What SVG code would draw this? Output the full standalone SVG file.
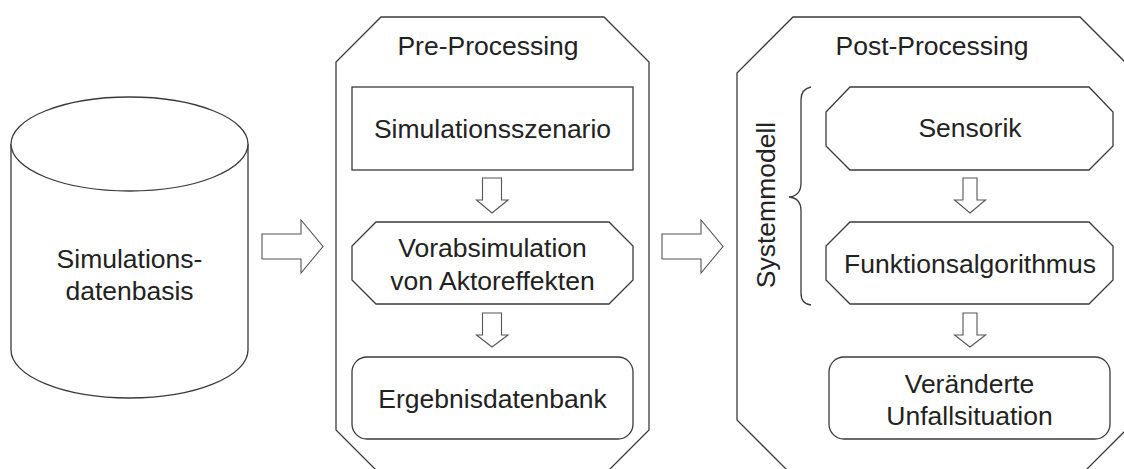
<svg xmlns="http://www.w3.org/2000/svg" width="1124" height="469" viewBox="0 0 1124 469">
<style>
.s{fill:#fff;stroke:#3a3a3a;stroke-width:1.3;stroke-linejoin:miter}
.b{fill:none;stroke:#3a3a3a;stroke-width:1.3}
.a{fill:#fff;stroke:#555;stroke-width:1.1}
text{font-family:"Liberation Sans",Arial,sans-serif;font-size:26.5px;fill:#222;text-anchor:middle}
</style>
<rect width="1124" height="469" fill="#fff"/>
<g id="db">
<path class="s" d="M11,144 V350 A118.5,48 0 0 0 248,350 V144"/>
<ellipse class="s" cx="129.5" cy="144" rx="118.5" ry="47"/>
<text x="129.5" y="268">Simulations-</text>
<text x="129.5" y="300">datenbasis</text>
</g>
<g id="pre">
<path class="s" d="M381,17 H604 L649,62 V430 L604,475 H381 L336,430 V62 Z"/>
<text x="488" y="55">Pre-Processing</text>
</g>
<g id="szenario">
<rect class="s" x="352" y="87" width="281" height="83"/>
<text x="492.5" y="138">Simulationsszenario</text>
</g>
<g id="vorab">
<path class="s" d="M376,222 H609 L633,246 V280 L609,304 H376 L352,280 V246 Z"/>
<text x="492.5" y="257">Vorabsimulation</text>
<text x="492.5" y="290">von Aktoreffekten</text>
</g>
<g id="ergebnis">
<rect class="s" x="352" y="357" width="281" height="82" rx="15"/>
<text x="492.5" y="408">Ergebnisdatenbank</text>
</g>
<g id="post">
<path class="s" d="M793,17 H1080 L1136,73 V420 L1080,476 H793 L737,420 V73 Z"/>
<text x="932" y="55">Post-Processing</text>
</g>
<g id="systemmodell">
<path class="b" d="M811,87 Q801,89 801,100 V183 Q801,196 789,197 Q801,198 801,211 V293 Q801,304 811,305"/>
<text transform="translate(775,205) rotate(-90)">Systemmodell</text>
</g>
<g id="sensorik">
<path class="s" d="M850,87 H1089 L1113,112 V146 L1089,170 H850 L826,146 V112 Z"/>
<text x="970" y="137">Sensorik</text>
</g>
<g id="funktion">
<path class="s" d="M850,222 H1089 L1113,246 V280 L1089,304 H850 L826,280 V246 Z"/>
<text x="970" y="273">Funktionsalgorithmus</text>
</g>
<g id="unfall">
<rect class="s" x="829" y="357" width="281" height="82" rx="15"/>
<text x="969.5" y="393">Veränderte</text>
<text x="969.5" y="425">Unfallsituation</text>
</g>
<g id="connectors">
<path class="a" d="M262,234 H301 V220 L323,246.5 L301,273 V259 H262 Z"/>
<path class="a" d="M662,234 H701 V220 L723,246.5 L701,273 V259 H662 Z"/>
<path class="a" d="M482.5,178 H501.5 V200 H508 L492,213 L476.5,200 H482.5 Z"/>
<path class="a" d="M482.5,313 H501.5 V335 H508 L492,347 L476.5,335 H482.5 Z"/>
<path class="a" d="M963,178 H977 V200 H985.5 L970,213 L954.5,200 H963 Z"/>
<path class="a" d="M963,313 H977 V335 H985.5 L970,347 L954.5,335 H963 Z"/>
</g>
</svg>
